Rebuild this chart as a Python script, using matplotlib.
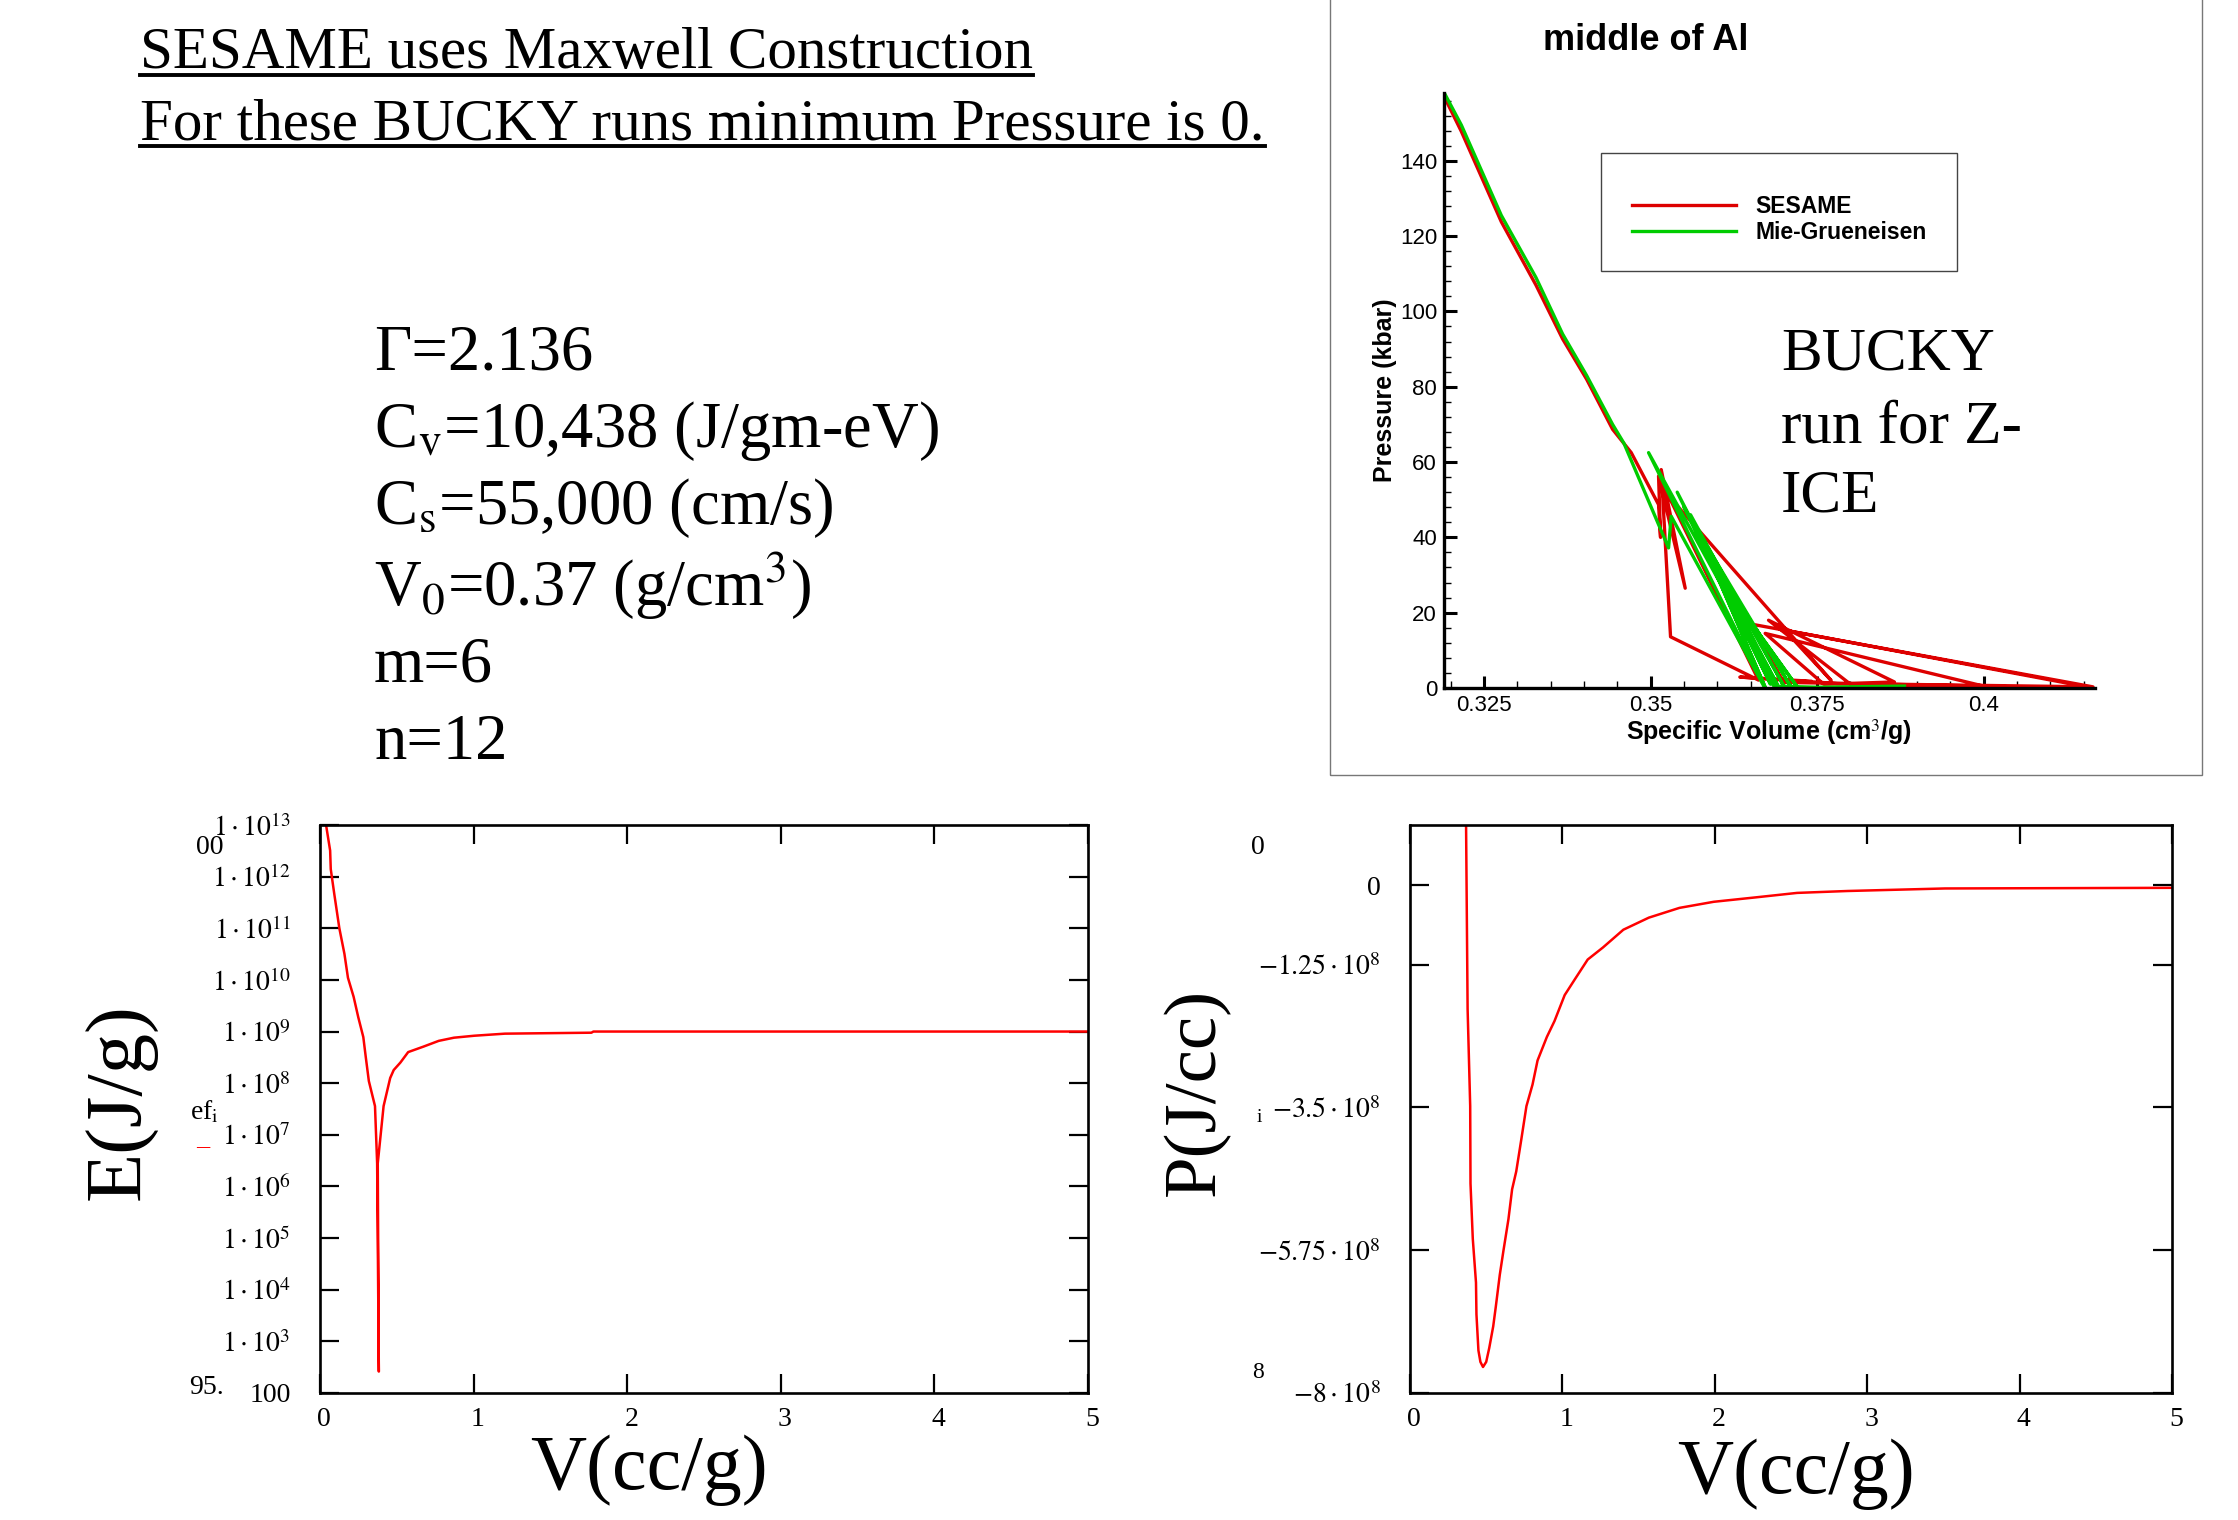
import numpy as np
import matplotlib
matplotlib.use('Agg')
import matplotlib.pyplot as plt
from matplotlib.lines import Line2D
from matplotlib.patches import Rectangle
from matplotlib.ticker import FixedLocator, FixedFormatter, NullLocator, MultipleLocator
from matplotlib.font_manager import FontProperties
from matplotlib.transforms import ScaledTranslation

plt.rcParams['mathtext.fontset'] = 'stix'
plt.rcParams['font.family'] = ['Liberation Serif', 'DejaVu Serif']

# ---------------- data ----------------
# E(V) curve, J/g (bottom-left, log scale)
e_v = [0.030, 0.066, 0.070, 0.093, 0.126, 0.159, 0.182, 0.219, 0.249, 0.282, 0.298,
       0.318, 0.358, 0.372, 0.383, 0.376, 0.414, 0.457, 0.480, 0.523, 0.574, 0.673,
       0.773, 0.872, 1.005, 1.204, 1.767, 1.780, 5.000]
e_val = [1.5e13, 3.2e12, 1.4e12, 4.6e11, 1.0e11, 3.2e10, 1.1e10, 4.7e9, 1.9e9, 7.8e8, 3.2e8,
         1.1e8, 3.6e7, 2.8e6, 2.6e2, 2.8e6, 3.6e7, 1.26e8, 1.8e8, 2.5e8, 4.0e8, 5.1e8,
         6.6e8, 7.6e8, 8.3e8, 9.1e8, 9.5e8, 1.0e9, 1.0e9]
e_yticks = [1e2, 1e3, 1e4, 1e5, 1e6, 1e7, 1e8, 1e9, 1e10, 1e11, 1e12, 1e13]
e_ylabels = ['100'] + [r'$1\cdot10^{%d}$' % k for k in range(3, 14)]

# P(V) curve, J/cc (bottom-right)
p_v = [0.366, 0.378, 0.395, 0.397, 0.412, 0.433, 0.436, 0.449, 0.462, 0.479, 0.500,
       0.520, 0.546, 0.563, 0.589, 0.613, 0.646, 0.670, 0.697, 0.730, 0.764, 0.804,
       0.837, 0.898, 0.948, 1.015, 1.082, 1.166, 1.266, 1.400, 1.567, 1.768, 1.993,
       2.270, 2.540, 2.870, 3.510, 5.000]
p_val = [1.5e8, -1.95e8, -3.48e8, -4.7e8, -5.57e8, -6.26e8, -6.76e8, -7.33e8, -7.51e8,
         -7.59e8, -7.51e8, -7.29e8, -6.95e8, -6.64e8, -6.14e8, -5.76e8, -5.26e8, -4.79e8,
         -4.51e8, -4.01e8, -3.48e8, -3.14e8, -2.76e8, -2.39e8, -2.14e8, -1.73e8, -1.48e8,
         -1.17e8, -0.98e8, -0.70e8, -0.51e8, -0.356e8, -0.26e8, -0.19e8, -0.12e8,
         -0.09e8, -0.05e8, -0.04e8]
p_yticks = [0, -1.25e8, -3.5e8, -5.75e8, -8e8]
p_ylabels = ['0', r'$-1.25\cdot10^{8}$', r'$-3.5\cdot10^{8}$', r'$-5.75\cdot10^{8}$', r'$-8\cdot10^{8}$']

v_ticks = [0, 1, 2, 3, 4, 5]
v_labels = ['0', '1', '2', '3', '4', '5']

# BUCKY inset: SESAME (red) and Mie-Grueneisen (green), specific volume vs pressure (kbar)
ses_v = [0.3189, 0.3216, 0.3276, 0.3328, 0.3368, 0.3404, 0.3443, 0.3471, 0.3512, 0.3515,
         0.3512, 0.3552, 0.3516, 0.3530, 0.3662, 0.3527, 0.3771, 0.3701, 0.4164, 0.3800,
         0.3677, 0.3866, 0.3760, 0.3672, 0.4000, 0.3700, 0.3650, 0.4164, 0.3780, 0.3634,
         0.3740]
ses_p = [157.5, 147.8, 123.8, 107.0, 92.7, 82.0, 68.7, 62.5, 48.7, 40.0,
         56.3, 26.5, 58.0, 13.6, 2.1, 51.0, 2.0, 15.4, 0.0, 1.0,
         18.0, 1.6, 1.0, 14.5, 0.5, 1.5, 17.0, 0.3, 1.2, 2.9,
         1.8]
mg_v = [0.3189, 0.3216, 0.3276, 0.3328, 0.3368, 0.3404, 0.3443, 0.3460, 0.3527, 0.3531,
        0.3670, 0.3497, 0.3690, 0.3540, 0.3680, 0.3550, 0.3700, 0.3560, 0.3672, 0.3570,
        0.3710, 0.3580, 0.3690, 0.3600, 0.3720, 0.3620, 0.3685, 0.3750, 0.3881]
mg_p = [158.5, 149.5, 125.5, 109.0, 94.0, 83.0, 70.0, 65.0, 37.2, 45.6,
        0.5, 62.5, 0.3, 52.0, 1.0, 48.0, 0.5, 46.0, 0.2, 42.0,
        0.5, 38.0, 1.0, 30.0, 0.3, 25.0, 0.5, 0.2, 0.5]

# ---------------- figure ----------------
W, H = 2238, 1520
fig = plt.figure(figsize=(W / 100, H / 100), dpi=100)
fig.patch.set_facecolor('white')


def fx(px):
    return px / W


def fy(py):
    return 1 - py / H


serif = 'Liberation Serif'
sans = 'Liberation Sans'

# --- headline text with underlines ---
t1 = fig.text(fx(140), fy(54), 'SESAME uses Maxwell Construction', fontsize=42.5,
              family=serif, ha='left', va='center')
t2 = fig.text(fx(140), fy(125), 'For these BUCKY runs minimum Pressure is 0.', fontsize=42.5,
              family=serif, ha='left', va='center')

# --- parameter block ---
params = [r'Γ=2.136',
          r'C$_{\mathrm{v}}$=10,438 (J/gm-eV)',
          r'C$_{\mathrm{s}}$=55,000 (cm/s)',
          r'V$_{0}$=0.37 (g/cm$^{3}$)',
          'm=6',
          'n=12']
param_y = [354, 431, 508, 586, 666, 743]
for s, yy in zip(params, param_y):
    fig.text(fx(374), fy(yy), s, fontsize=46.5, family=serif, ha='left', va='center')

# --- BUCKY inset panel ---
fig.add_artist(Rectangle((fx(1330), fy(775)), fx(2202) - fx(1330), 1.0,
                         transform=fig.transFigure, fill=False, edgecolor='#777777',
                         lw=1.0, clip_on=False))
ax3 = fig.add_axes([fx(1444), fy(688), fx(2095) - fx(1444), (688 - 93) / H])
ax3.plot(ses_v, ses_p, color='#dd0000', lw=2.4, label='SESAME')
ax3.plot(mg_v, mg_p, color='#00cc00', lw=2.4, label='Mie-Grueneisen')
ax3.set_xlim(0.319, 0.4167)
ax3.set_ylim(0, 158)
for sp in ['top', 'right']:
    ax3.spines[sp].set_visible(False)
for sp in ['left', 'bottom']:
    ax3.spines[sp].set_linewidth(2.4)
ax3.xaxis.set_major_locator(FixedLocator([0.325, 0.35, 0.375, 0.4]))
ax3.xaxis.set_major_formatter(FixedFormatter(['0.325', '0.35', '0.375', '0.4']))
ax3.xaxis.set_minor_locator(MultipleLocator(0.005))
ax3.yaxis.set_major_locator(FixedLocator([0, 20, 40, 60, 80, 100, 120, 140]))
ax3.yaxis.set_major_formatter(FixedFormatter(['0', '20', '40', '60', '80', '100', '120', '140']))
ax3.yaxis.set_minor_locator(MultipleLocator(4))
ax3.tick_params(which='major', direction='in', length=9, width=2.2, labelsize=16, pad=5)
ax3.tick_params(which='minor', direction='in', length=5, width=1.0)
for lab in ax3.get_xticklabels() + ax3.get_yticklabels():
    lab.set_family(sans)
ax3.set_xlabel('Specific Volume (cm$^{3}$/g)', family=sans, fontsize=18, weight='bold', labelpad=1)
ax3.set_ylabel('Pressure (kbar)', family=sans, fontsize=18, weight='bold', labelpad=2)
fig.text(fx(1646), fy(40), 'middle of Al', family=sans, fontsize=26, weight='bold',
         ha='center', va='center')
fig.add_artist(Rectangle((fx(1601), fy(271)), fx(1957) - fx(1601), (271 - 153) / H,
                         transform=fig.transFigure, fill=False, edgecolor='#444444', lw=1.0))
leg = ax3.legend(loc='upper left', bbox_to_anchor=(fx(1621), fy(184)),
                 bbox_transform=fig.transFigure, frameon=False, borderpad=0,
                 handlelength=4.5, handletextpad=0.85, labelspacing=0.12,
                 prop=FontProperties(family=sans, weight='bold', size=16.5))
fig.text(fx(1781), fy(355), 'BUCKY', fontsize=44, family=serif, ha='left', va='center')
fig.text(fx(1781), fy(428), 'run for Z-', fontsize=44, family=serif, ha='left', va='center')
fig.text(fx(1781), fy(497), 'ICE', fontsize=44, family=serif, ha='left', va='center')

# --- bottom-left: E(V) ---
red = '#ff0000'
ax1 = fig.add_axes([fx(320), fy(1393), 768 / W, 568 / H])
ax1.plot(e_v, e_val, color=red, lw=1.8)
ax1.set_yscale('log')
ax1.set_xlim(0, 5)
ax1.set_ylim(1e2, 1e13)
ax1.yaxis.set_major_locator(FixedLocator(e_yticks))
ax1.yaxis.set_major_formatter(FixedFormatter(e_ylabels))
ax1.yaxis.set_minor_locator(NullLocator())
ax1.xaxis.set_major_locator(FixedLocator(v_ticks))
ax1.xaxis.set_major_formatter(FixedFormatter(v_labels))

# --- bottom-right: P(V) ---
ax2 = fig.add_axes([fx(1410), fy(1393), 762 / W, 568 / H])
ax2.plot(p_v, p_val, color=red, lw=1.8)
ax2.set_xlim(0, 5)
ax2.set_ylim(-8e8, 0.95e8)
ax2.yaxis.set_major_locator(FixedLocator(p_yticks))
ax2.yaxis.set_major_formatter(FixedFormatter(p_ylabels))
ax2.xaxis.set_major_locator(FixedLocator(v_ticks))
ax2.xaxis.set_major_formatter(FixedFormatter(v_labels))

shift = ScaledTranslation(3 / 72, 0, fig.dpi_scale_trans)
for ax in (ax1, ax2):
    for sp in ax.spines.values():
        sp.set_linewidth(1.9)
    ax.tick_params(direction='in', length=14, width=1.6, top=True, right=True,
                   labelsize=20)
    ax.tick_params(axis='x', pad=10)
    ax.tick_params(axis='y', pad=21)
    for lab in ax.get_xticklabels():
        lab.set_transform(lab.get_transform() + shift)

fig.text(fx(121), fy(1102), 'E(J/g)', rotation=90, fontsize=58, family=serif,
         ha='center', va='center')
fig.text(fx(1196), fy(1092), 'P(J/cc)', rotation=90, fontsize=54, family=serif,
         ha='center', va='center')
fig.text(fx(649), fy(1470), 'V(cc/g)', fontsize=56, family=serif, ha='center', va='center')
fig.text(fx(1796), fy(1474), 'V(cc/g)', fontsize=56, family=serif, ha='center', va='center')

# leftover label fragments visible on the slide
fig.text(fx(210), fy(848), '00', fontsize=20, family=serif, ha='center', va='center')
fig.text(fx(204), fy(1112), r'ef$_{\mathrm{i}}$', fontsize=20, family=serif, ha='center', va='center')
fig.text(fx(203), fy(1146), '–', fontsize=19, family=serif, color=red, ha='center', va='center')
fig.text(fx(206), fy(1388), '95.', fontsize=20, family=serif, ha='center', va='center')
fig.text(fx(1258), fy(848), '0', fontsize=20, family=serif, ha='center', va='center')
fig.text(fx(1259), fy(1118), 'i', fontsize=14, family=serif, ha='center', va='center')
fig.text(fx(1258), fy(1372), '8', fontsize=17, family=serif, ha='center', va='center')

# underline the headline
fig.canvas.draw()
r = fig.canvas.get_renderer()
for t, yy in ((t1, 75), (t2, 146)):
    bb = t.get_window_extent(r)
    fig.add_artist(Line2D([bb.x0 / W, bb.x1 / W], [fy(yy), fy(yy)],
                          transform=fig.transFigure, color='black', lw=2.8))

fig.savefig('out.png', dpi=100, facecolor='white')
